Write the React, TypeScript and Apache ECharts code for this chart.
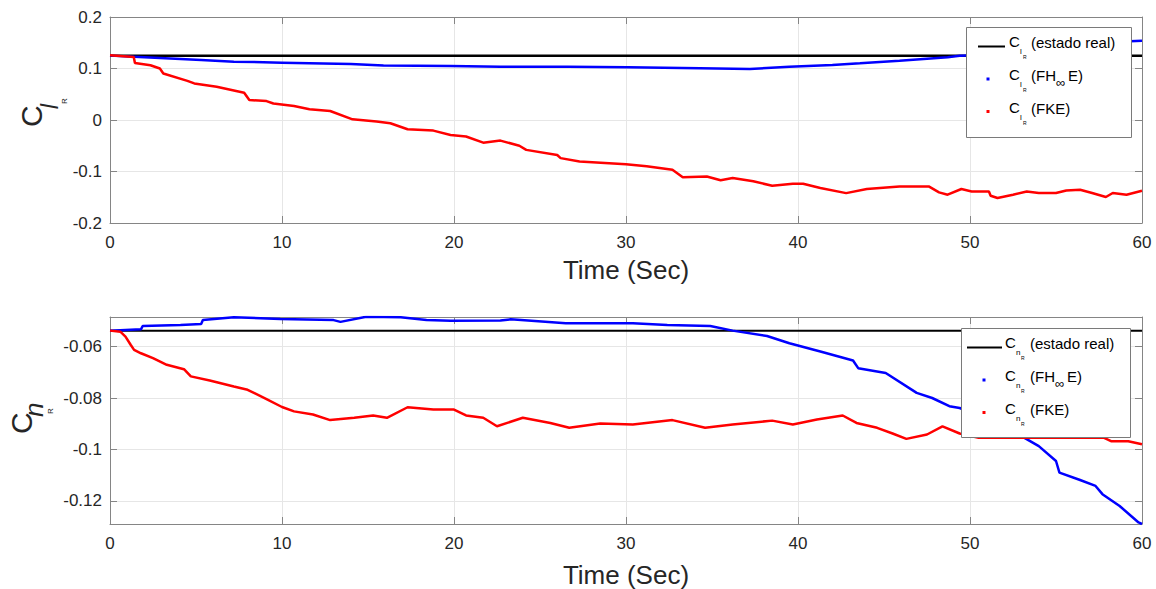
import React, { useEffect, useRef } from 'react';
import * as echarts from 'echarts';

// ---------- data ----------
const realClTime = [0, 60];
const realClValue = [0.125, 0.125];

const fhClTime = [0, 2.0, 5.3, 7.2, 10, 14, 15.9, 19.8, 22.7, 26.6, 30.1, 34.3, 37.2, 39.5, 42, 43.6, 45.9, 48.7, 49.4, 51, 53, 55, 57, 58.5, 59.3, 60];
const fhClValue = [0.125, 0.1219, 0.1165, 0.1133, 0.1113, 0.1087, 0.106, 0.1049, 0.1035, 0.1035, 0.1023, 0.1004, 0.099, 0.1035, 0.1068, 0.11, 0.1152, 0.1217, 0.1248, 0.126, 0.128, 0.132, 0.14, 0.148, 0.153, 0.154];

const fkClTime = [0, 1.38, 1.45, 2.35, 2.9, 3.1, 4.5, 4.9, 6.2, 7.8, 8.1, 9.1, 9.5, 10.7, 11.6, 12.8, 14.1, 15.5, 16.3, 17.3, 18.8, 19.8, 20.7, 21.7, 22.7, 23.8, 24.2, 26.0, 26.2, 27.3, 30.0, 31.2, 32.7, 33.3, 34.7, 35.5, 36.2, 37.4, 38.5, 39.7, 40.3, 41.3, 42.8, 44.0, 45.9, 47.6, 48.2, 48.7, 49.5, 50.1, 51.1, 51.2, 51.6, 52.5, 53.3, 54.0, 55.0, 55.6, 56.4, 57.1, 57.9, 58.3, 59.1, 60];
const fkClValue = [0.1257, 0.1225, 0.1108, 0.1064, 0.1, 0.0903, 0.076, 0.071, 0.0645, 0.053, 0.0387, 0.0367, 0.032, 0.027, 0.021, 0.0174, 0.0013, -0.003, -0.0064, -0.018, -0.0206, -0.029, -0.032, -0.044, -0.04, -0.05, -0.058, -0.068, -0.074, -0.0806, -0.0857, -0.09, -0.0967, -0.111, -0.1096, -0.117, -0.1128, -0.119, -0.1277, -0.1238, -0.1238, -0.132, -0.142, -0.134, -0.129, -0.129, -0.1406, -0.145, -0.134, -0.1387, -0.1387, -0.147, -0.1515, -0.145, -0.1387, -0.1418, -0.1418, -0.137, -0.1354, -0.1418, -0.1495, -0.1418, -0.145, -0.1373];

const realCnTime = [0, 60];
const realCnValue = [-0.0538, -0.0538];

const fhCnTime = [0, 1.8, 1.9, 4.1, 5.3, 5.4, 7.2, 9.9, 13.0, 13.4, 14.9, 16.9, 18.4, 19.8, 22.7, 23.3, 26.5, 30.4, 32.4, 34.9, 36.2, 38.2, 39.5, 41.3, 43.2, 43.5, 45.1, 46.9, 47.8, 48.8, 49.4, 52, 54.0, 55.0, 55.2, 56.4, 57.3, 57.7, 58.7, 59.8, 60];
const fhCnValue = [-0.0538, -0.0533, -0.052, -0.0516, -0.0512, -0.0497, -0.0486, -0.0493, -0.0497, -0.0504, -0.0484, -0.0486, -0.0497, -0.05, -0.0499, -0.0494, -0.0509, -0.0509, -0.0516, -0.052, -0.0538, -0.0559, -0.0587, -0.0619, -0.0654, -0.0684, -0.0703, -0.078, -0.08, -0.0832, -0.0839, -0.091, -0.0987, -0.1045, -0.109, -0.1119, -0.1142, -0.1174, -0.122, -0.1284, -0.129];

const fkCnTime = [0, 0.6, 0.9, 1.2, 1.4, 1.8, 2.5, 3.3, 4.3, 4.7, 5.8, 7.2, 8.0, 9.1, 10.0, 10.7, 11.8, 12.8, 14.2, 15.3, 16.1, 17.3, 18.8, 20.0, 20.7, 21.7, 22.5, 24.0, 25.6, 26.7, 28.5, 30.4, 32.7, 34.6, 36.2, 38.5, 39.7, 41.1, 42.6, 43.4, 44.6, 45.5, 46.3, 47.5, 48.4, 49.4, 50.5, 52, 54, 56, 57.8, 58.2, 59.2, 60];
const fkCnValue = [-0.0538, -0.0542, -0.0561, -0.0593, -0.0613, -0.0626, -0.0645, -0.0671, -0.0688, -0.0716, -0.0732, -0.0755, -0.0768, -0.0804, -0.0835, -0.0852, -0.0864, -0.0886, -0.0877, -0.0868, -0.0877, -0.0836, -0.0845, -0.0845, -0.0868, -0.0877, -0.091, -0.0877, -0.0897, -0.0916, -0.0899, -0.0903, -0.0886, -0.0916, -0.0903, -0.0888, -0.0903, -0.0884, -0.0868, -0.0897, -0.0916, -0.0938, -0.0959, -0.0942, -0.091, -0.0938, -0.0955, -0.0955, -0.0955, -0.0955, -0.0955, -0.0968, -0.0968, -0.098];

const timeTicks = [0, 10, 20, 30, 40, 50, 60];
const clTicks = [-0.2, -0.1, 0, 0.1, 0.2];
const cnTicks = [-0.12, -0.1, -0.08, -0.06];
const cnMin = -0.129;
const cnMax = -0.0485;

const xAxisTitle = 'Time (Sec)';
const legendLabels = ['(estado real)', '(FH', '∞', 'E)', '(FKE)'];

// ---------- styling ----------
const FONT = '"Liberation Sans", Arial, Helvetica, sans-serif';
const AXIS = '#858585';
const TXT = '#262626';
const GRIDC = '#e6e6e6';

const pairs = (t: number[], v: number[]) => t.map((x, i) => [x, v[i]]);

function xAxes(gridIndex: number, nameGap: number, margin: number) {
  return [
    {
      gridIndex, type: 'value', position: 'bottom', min: timeTicks[0], max: timeTicks[timeTicks.length - 1], interval: 10,
      axisLine: { show: true, onZero: false, lineStyle: { color: AXIS, width: 1 } },
      axisTick: { show: true, inside: true, length: 7, lineStyle: { color: AXIS } },
      axisLabel: { fontSize: 17, color: TXT, fontFamily: FONT, margin },
      splitLine: { show: true, lineStyle: { color: GRIDC, width: 1 } },
      name: xAxisTitle, nameLocation: 'middle', nameGap,
      nameTextStyle: { fontSize: 26, color: TXT, fontFamily: FONT },
    },
    {
      gridIndex, type: 'value', position: 'top', min: 0, max: 60, interval: 10,
      axisLine: { show: true, onZero: false, lineStyle: { color: AXIS, width: 1 } },
      axisTick: { show: true, inside: true, length: 7, lineStyle: { color: AXIS } },
      axisLabel: { show: false }, splitLine: { show: false },
    },
  ];
}

function legendBlock(bx: number, by: number, bw: number, bh: number, sym: string,
  lx0: number, lx1: number, dotX: number, cX: number, subX: number, rX: number, txtX: number) {
  const cY = [by + 14.5, by + 47.5, by + 80.5];
  const mY = [by + 19.5, by + 52, by + 84.5];
  const z = 100;
  const els: any[] = [
    { type: 'rect', z, shape: { x: bx + 0.5, y: by + 0.5, width: bw, height: bh }, style: { fill: '#fff', stroke: '#7a7a7a', lineWidth: 1 } },
    { type: 'line', z, shape: { x1: lx0, y1: mY[0], x2: lx1, y2: mY[0] }, style: { stroke: '#000', lineWidth: 2 } },
    { type: 'rect', z, shape: { x: dotX - 1.5, y: mY[1] - 1.5, width: 3, height: 3 }, style: { fill: '#0000ff' } },
    { type: 'rect', z, shape: { x: dotX - 1.5, y: mY[2] - 1.5, width: 3, height: 3 }, style: { fill: '#ff0000' } },
  ];
  const t = (text: string, x: number, y: number, size: number, extra: any = {}) => ({
    type: 'text', z, x, y,
    style: { text, fontSize: size, fontFamily: FONT, fill: '#000', align: 'left', verticalAlign: 'middle', ...extra },
  });
  for (let i = 0; i < 3; i++) {
    els.push(t('C', cX, cY[i], 15));
    els.push(t(sym, subX, cY[i] + 10, 8));
    els.push(t('R', rX, cY[i] + 15, 5));
  }
  els.push(t(legendLabels[0], txtX, cY[0] + 1, 15));
  els.push(t(legendLabels[1], txtX, cY[1] + 1, 15));
  els.push(t(legendLabels[2], txtX + 25, cY[1] + 8, 13));
  els.push(t(legendLabels[3], txtX + 37, cY[1] + 1, 15));
  els.push(t(legendLabels[4], txtX, cY[2] + 1, 15));
  return els;
}

function yTitle(cx: number, cy: number, sub: string, subDx: number, subDy: number, subSize: number, rDx: number, rDy: number) {
  const mk = (text: string, x: number, y: number, size: number, italic = false) => ({
    type: 'text', x, y, rotation: Math.PI / 2,
    style: { text, fontSize: size, fontFamily: FONT, fontStyle: italic ? 'italic' : 'normal', fill: TXT, align: 'left', verticalAlign: 'middle' },
  });
  return [
    mk('C', cx, cy, 30),
    mk(sub, cx + subDx, cy - subDy, subSize, true),
    mk('R', cx + rDx, cy - rDy, 8),
  ];
}

export default function App() {
  const ref = useRef<HTMLDivElement>(null);
  useEffect(() => {
    if (!ref.current) return;
    const chart = echarts.init(ref.current, undefined, { renderer: 'svg' });
    const option: any = {
      animation: false,
      backgroundColor: '#fff',
      grid: [
        { left: 110, top: 17, width: 1032, height: 206 },
        { left: 110, top: 317, width: 1032, height: 208 },
      ],
      xAxis: [...xAxes(0, 34, 11), ...xAxes(1, 38, 11)],
      yAxis: [
        {
          gridIndex: 0, type: 'value', position: 'left', min: clTicks[0], max: clTicks[clTicks.length - 1], interval: 0.1,
          axisLine: { show: true, onZero: false, lineStyle: { color: AXIS } },
          axisTick: { show: true, inside: true, length: 7, lineStyle: { color: AXIS } },
          axisLabel: { fontSize: 17, color: TXT, fontFamily: FONT, margin: 8 },
          splitLine: { show: true, lineStyle: { color: GRIDC } },
        },
        {
          gridIndex: 0, type: 'value', position: 'right', min: -0.2, max: 0.2, interval: 0.1,
          axisLine: { show: true, onZero: false, lineStyle: { color: AXIS } },
          axisTick: { show: true, inside: true, length: 7, lineStyle: { color: AXIS } },
          axisLabel: { show: false }, splitLine: { show: false },
        },
        {
          gridIndex: 1, type: 'value', position: 'left', min: cnMin, max: cnMax,
          axisLine: { show: true, onZero: false, lineStyle: { color: AXIS } },
          axisTick: { show: true, inside: true, length: 7, lineStyle: { color: AXIS }, customValues: cnTicks },
          axisLabel: { fontSize: 17, color: TXT, fontFamily: FONT, margin: 8, customValues: cnTicks },
          splitLine: { show: true, lineStyle: { color: GRIDC }, customValues: cnTicks },
        },
        {
          gridIndex: 1, type: 'value', position: 'right', min: cnMin, max: cnMax,
          axisLine: { show: true, onZero: false, lineStyle: { color: AXIS } },
          axisTick: { show: true, inside: true, length: 7, lineStyle: { color: AXIS }, customValues: cnTicks },
          axisLabel: { show: false }, splitLine: { show: false },
        },
      ],
      series: [
        { type: 'line', xAxisIndex: 0, yAxisIndex: 0, data: pairs(realClTime, realClValue), showSymbol: false, lineStyle: { color: '#000', width: 2.5 } },
        { type: 'line', xAxisIndex: 0, yAxisIndex: 0, data: pairs(fhClTime, fhClValue), showSymbol: false, lineStyle: { color: '#0000ff', width: 2.5 } },
        { type: 'line', xAxisIndex: 0, yAxisIndex: 0, data: pairs(fkClTime, fkClValue), showSymbol: false, lineStyle: { color: '#ff0000', width: 2.5 } },
        { type: 'line', xAxisIndex: 2, yAxisIndex: 2, data: pairs(realCnTime, realCnValue), showSymbol: false, lineStyle: { color: '#000', width: 2 } },
        { type: 'line', xAxisIndex: 2, yAxisIndex: 2, data: pairs(fhCnTime, fhCnValue), showSymbol: false, lineStyle: { color: '#0000ff', width: 2.5 } },
        { type: 'line', xAxisIndex: 2, yAxisIndex: 2, data: pairs(fkCnTime, fkCnValue), showSymbol: false, lineStyle: { color: '#ff0000', width: 2.5 } },
      ],
      graphic: [
        ...yTitle(31, 127, 'l', 19, 18, 23, 33, 23),
        ...yTitle(21.5, 434, 'n', 12.5, 17, 26, 29, 20),
        ...legendBlock(966, 27, 165, 110, 'l', 978, 1005, 988, 1009, 1020, 1023, 1031),
        ...legendBlock(961, 328, 169, 109, 'n', 967, 1002, 984, 1005, 1016, 1021, 1030),
      ],
    };
    chart.setOption(option);
    return () => chart.dispose();
  }, []);
  return <div ref={ref} style={{ position: 'fixed', left: 0, top: 0, width: 1156, height: 589 }} />;
}
